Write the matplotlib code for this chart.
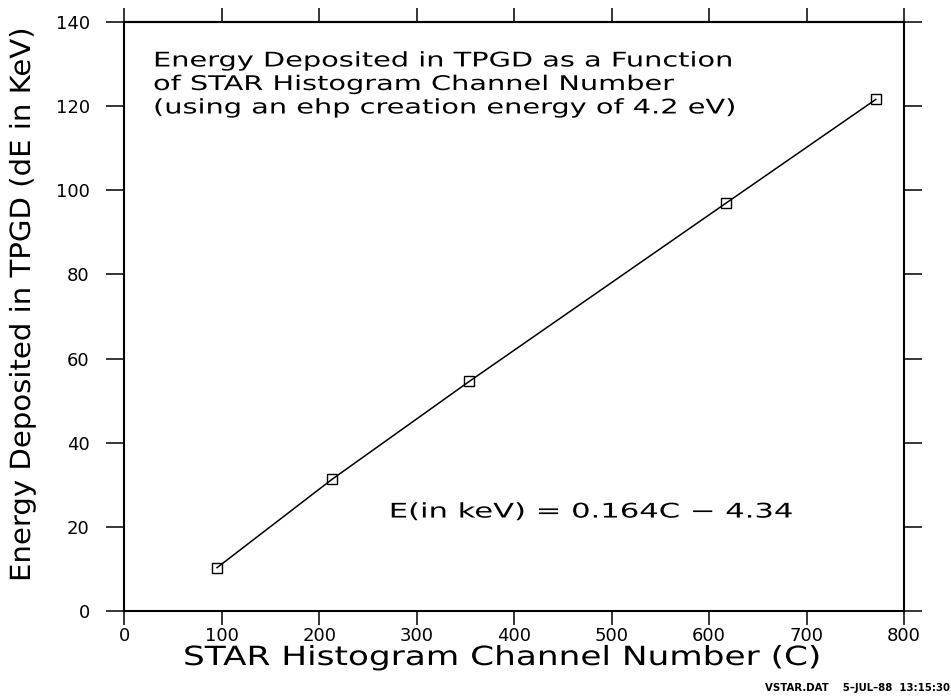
import matplotlib
matplotlib.use("Agg")
import matplotlib.pyplot as plt
from matplotlib.patheffects import AbstractPathEffect
from matplotlib.transforms import Affine2D

# STAR histogram channel numbers and deposited energies (keV)
channel = [95, 213, 354, 617, 771]
energy = [10.3, 31.3, 54.6, 96.9, 121.6]

x_ticks = [0, 100, 200, 300, 400, 500, 600, 700, 800]
y_ticks = [0, 20, 40, 60, 80, 100, 120, 140]

title_lines = [
    "Energy Deposited in TPGD as a Function",
    "of STAR Histogram Channel Number",
    "(using an ehp creation energy of 4.2 eV)",
]
fit_label = "E(in keV) = 0.164C \u2212 4.34"
x_label = "STAR Histogram Channel Number (C)"
y_label = "Energy Deposited in TPGD (dE in KeV)"
footer = "VSTAR.DAT    5\u2013JUL\u201388  13:15:30"


class WideGlyphs(AbstractPathEffect):
    """Widen glyphs along the text baseline (plotter-style lettering)."""

    def __init__(self, sx):
        super().__init__()
        self._sx = sx

    def draw_path(self, renderer, gc, tpath, affine, rgbFace=None):
        renderer.draw_path(gc, tpath, Affine2D().scale(self._sx, 1.0) + affine,
                           rgbFace)


plt.rcParams["font.family"] = ["DejaVu Sans"]

fig = plt.figure(figsize=(9.51, 6.97), dpi=100)
ax = fig.add_axes([0.1309, 0.1234, 0.8197, 0.8450])

ax.plot(channel, energy, color="black", lw=1.1, marker="s", ms=6.5,
        mfc="none", mec="black", mew=1.0)

ax.set_xlim(0, 800)
ax.set_ylim(0, 140)
ax.set_xticks(x_ticks)
ax.set_yticks(y_ticks)

for s in ax.spines.values():
    s.set_linewidth(1.5)

ax.tick_params(axis="x", direction="out", length=10, width=1.1,
               labelsize=13, pad=1.5)
ax.tick_params(axis="y", direction="out", length=13, width=1.1,
               labelsize=13, pad=12, left=True, right=True)

top = ax.secondary_xaxis("top")
top.set_xticks(x_ticks)
top.tick_params(direction="out", length=10, width=1.1, labeltop=False)
top.spines["top"].set_linewidth(1.5)

# Axis titles, widened along the baseline
fig.text(183 / 951, 1 - 658 / 697, x_label, fontsize=19, ha="left",
         va="center", path_effects=[WideGlyphs(1.30)])
fig.text(22 / 951, 1 - 582 / 697, y_label, fontsize=20, rotation=90,
         ha="center", va="bottom", path_effects=[WideGlyphs(1.05)])

ax.text(0.0366, 0.950, "\n".join(title_lines), transform=ax.transAxes,
        fontsize=14.5, va="top", ha="left", linespacing=1.3,
        path_effects=[WideGlyphs(1.43)])
ax.text(0.339, 0.168, fit_label, transform=ax.transAxes,
        fontsize=14.5, va="center", ha="left",
        path_effects=[WideGlyphs(1.52)])

fig.text(0.999, 0.013, footer, fontsize=7.3, fontweight="bold",
         ha="right", va="center")

fig.savefig("out.png", dpi=100, facecolor="white")
